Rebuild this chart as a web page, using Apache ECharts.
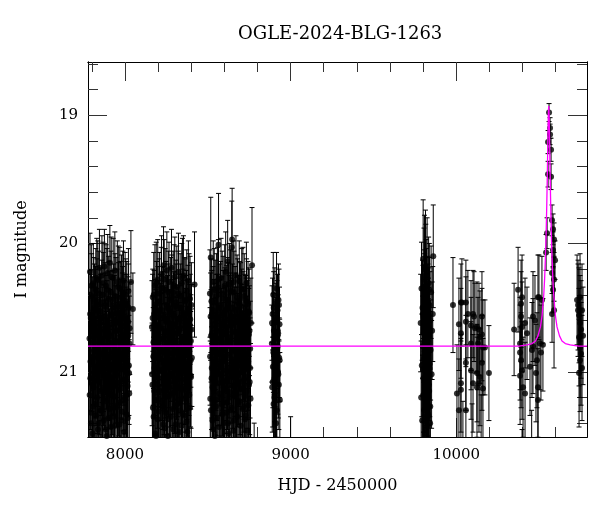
<!DOCTYPE html>
<html>
<head>
<meta charset="utf-8">
<script src="https://cdn.jsdelivr.net/npm/echarts@6/dist/echarts.min.js"></script>
<style>html,body{margin:0;padding:0;background:#fff}#c{width:600px;height:512px}</style>
</head>
<body>
<div id="c"></div>
<script>
// ---- axis settings ----
const X_MIN = 7777, X_MAX = 10789;
const Y_MIN = 18.586, Y_MAX = 21.508;
const X_MAJOR = [8000, 9000, 10000];
const X_MINOR = [7800, 8200, 8400, 8600, 8800, 9200, 9400, 9600, 9800, 10200, 10400, 10600];
const Y_MAJOR = [19, 20, 21];
const Y_MINOR = [18.6, 18.8, 19.2, 19.4, 19.6, 19.8, 20.2, 20.4, 20.6, 20.8, 21.2, 21.4];

// ---- photometry: [HJD-2450000, I mag, error] ----
const s2017 = [[7786,20.74,.36],[7789,20.22,.30],[7791,21.05,.40],[7794,20.58,.34],[7796,21.32,.45],[7799,20.41,.33],[7801,20.93,.38],[7804,21.48,.48],[7806,20.66,.35],[7809,20.31,.31],[7811,21.12,.42],[7814,20.84,.37],[7816,20.50,.34],[7819,21.25,.44],[7821,20.97,.39],[7824,20.36,.32],[7826,21.58,.50],[7829,20.71,.36],[7831,20.45,.33],[7834,21.07,.41],[7836,20.28,.30],[7839,20.89,.38],[7841,21.40,.47],[7844,20.62,.35],[7846,20.19,.30],[7849,21.15,.42],[7851,20.78,.36],[7854,20.53,.34],[7856,21.30,.45],[7859,20.95,.39],[7861,20.25,.31],[7864,21.66,.52],[7866,20.69,.35],[7869,20.40,.33],[7871,21.02,.40],[7874,20.85,.37],[7876,20.18,.29],[7879,21.21,.43],[7881,20.57,.34],[7884,21.45,.48],[7886,20.33,.32],[7889,20.91,.38],[7891,20.64,.35],[7894,21.10,.41],[7896,20.23,.30],[7899,20.80,.37],[7901,21.36,.46],[7904,20.47,.33],[7906,20.99,.39],[7909,20.15,.29],[7911,21.18,.42],[7914,20.72,.36],[7916,20.38,.32],[7919,21.52,.49],[7921,20.87,.38],[7924,20.55,.34],[7926,21.08,.41],[7929,20.27,.31],[7931,20.94,.39],[7934,21.28,.44],[7936,20.60,.35],[7939,20.21,.30],[7941,21.42,.47],[7944,20.76,.36],[7946,20.44,.33],[7949,21.03,.40],[7951,20.83,.37],[7954,20.30,.32],[7956,21.61,.51],[7959,20.68,.35],[7961,20.49,.34],[7964,21.14,.42],[7966,20.90,.38],[7969,20.35,.32],[7971,21.24,.44],[7974,20.63,.35],[7976,20.97,.39],[7979,20.42,.33],[7981,21.38,.46],[7984,20.75,.36],[7986,20.52,.34],[7989,21.06,.40],[7991,20.29,.31],[7994,20.88,.38],[7996,21.20,.43],[7999,20.59,.35],[8001,20.40,.33],[8004,21.00,.40],[8006,20.70,.36],[8009,21.33,.45],[8011,20.48,.34],[8014,20.82,.37],[8016,21.11,.42],[8019,20.61,.35],[8021,20.37,.33],[8024,20.95,.39],[8026,21.17,.42],[8029,20.66,.36],[8036,20.30,.40],[8048,20.51,.28]];
const s2017b = [[7787,21.18,.42],[7790,20.55,.34],[7792,20.92,.38],[7795,21.40,.47],[7797,20.33,.32],[7800,20.78,.37],[7803,21.10,.41],[7805,20.61,.35],[7807,21.27,.44],[7810,20.88,.38],[7812,20.44,.33],[7815,21.55,.50],[7817,20.70,.36],[7820,21.02,.40],[7822,20.52,.34],[7825,21.34,.45],[7827,20.96,.39],[7830,20.27,.31],[7832,21.20,.43],[7835,20.65,.35],[7837,21.45,.48],[7840,20.83,.37],[7842,20.39,.33],[7845,21.08,.41],[7847,20.74,.36],[7850,21.30,.45],[7852,20.58,.34],[7855,20.99,.39],[7857,21.62,.51],[7860,20.46,.33],[7862,20.86,.38],[7865,21.14,.42],[7867,20.31,.32],[7870,20.93,.38],[7872,21.38,.46],[7875,20.67,.35],[7877,21.05,.40],[7880,20.49,.34],[7882,20.81,.37],[7885,21.23,.44],[7887,20.60,.35],[7890,21.50,.49],[7892,20.36,.32],[7895,20.97,.39],[7897,21.16,.42],[7900,20.71,.36],[7902,20.43,.33],[7905,21.29,.44],[7907,20.89,.38],[7910,20.56,.34],[7912,21.04,.40],[7915,21.43,.48],[7917,20.26,.31],[7920,20.79,.37],[7922,21.12,.42],[7925,20.63,.35],[7927,20.95,.39],[7930,21.35,.46],[7932,20.50,.34],[7935,20.84,.37],[7937,21.19,.43],[7940,20.41,.33],[7942,21.00,.40],[7945,20.68,.35],[7947,21.57,.50],[7950,20.91,.38],[7952,20.54,.34],[7955,21.26,.44],[7957,20.77,.36],[7960,20.34,.32],[7962,21.09,.41],[7965,20.62,.35],[7967,21.41,.47],[7970,20.86,.38],[7972,20.47,.33],[7975,21.13,.42],[7977,20.73,.36],[7980,20.98,.39],[7982,21.31,.45],[7985,20.57,.34],[7987,20.38,.32],[7990,21.22,.43],[7992,20.80,.37],[7995,21.47,.48],[7997,20.64,.35],[8000,20.94,.39],[8002,21.07,.41],[8005,20.45,.33],[8007,20.85,.37],[8010,21.18,.42],[8012,20.59,.35],[8015,20.96,.39],[8017,21.36,.46],[8020,20.72,.36],[8022,20.50,.34],[8025,21.01,.40],[8027,20.78,.37]];
const s2018 = [[8163,20.65,.36],[8166,21.10,.42],[8168,20.42,.22],[8171,20.88,.38],[8173,21.35,.46],[8176,20.55,.34],[8178,20.97,.39],[8181,20.33,.32],[8183,21.22,.43],[8186,20.72,.36],[8188,21.50,.49],[8191,20.47,.33],[8193,20.81,.37],[8196,21.04,.40],[8198,20.28,.31],[8201,20.64,.35],[8203,21.31,.45],[8206,20.90,.38],[8208,20.39,.32],[8211,21.15,.42],[8213,20.58,.34],[8216,21.62,.52],[8218,20.75,.36],[8221,20.24,.30],[8223,20.99,.39],[8226,21.27,.44],[8228,20.52,.34],[8231,20.84,.37],[8233,20.17,.30],[8236,21.08,.41],[8238,20.68,.35],[8241,21.44,.48],[8243,20.36,.32],[8246,20.93,.38],[8248,20.61,.35],[8251,21.19,.43],[8253,20.21,.30],[8256,20.79,.37],[8258,21.37,.46],[8261,20.50,.34],[8263,20.96,.39],[8266,20.30,.31],[8268,21.12,.42],[8271,20.73,.36],[8273,21.55,.50],[8276,20.44,.33],[8278,20.86,.37],[8281,20.19,.30],[8283,21.02,.40],[8286,20.63,.35],[8288,21.29,.45],[8291,20.38,.32],[8293,20.91,.38],[8296,20.56,.34],[8298,21.16,.42],[8301,20.26,.31],[8303,20.77,.36],[8306,21.41,.47],[8308,20.49,.33],[8311,20.98,.39],[8313,20.34,.32],[8316,21.06,.41],[8318,20.70,.36],[8321,21.25,.44],[8323,20.22,.30],[8326,20.83,.37],[8328,20.59,.35],[8331,21.47,.48],[8333,20.41,.33],[8336,20.94,.38],[8338,20.66,.35],[8341,21.13,.42],[8343,20.31,.31],[8346,20.87,.38],[8348,21.33,.45],[8351,20.54,.34],[8353,20.25,.31],[8356,21.01,.40],[8358,20.74,.36],[8361,21.21,.43],[8363,20.45,.33],[8366,20.92,.38],[8368,20.60,.35],[8371,21.39,.46],[8373,20.37,.32],[8376,20.80,.37],[8378,21.09,.41],[8381,20.51,.34],[8383,20.29,.31],[8386,20.95,.39],[8388,21.18,.42],[8391,20.67,.35],[8393,20.43,.33],[8396,21.03,.40],[8398,20.76,.36],[8401,20.48,.33],[8404,20.89,.38],[8420,20.32,.41]];
const s2018b = [[8164,21.02,.40],[8167,20.58,.34],[8169,21.28,.44],[8172,20.77,.36],[8174,20.40,.33],[8177,21.15,.42],[8179,20.86,.38],[8182,21.48,.48],[8184,20.63,.35],[8187,20.95,.39],[8189,20.31,.32],[8192,21.10,.41],[8194,20.70,.36],[8197,21.37,.46],[8199,20.52,.34],[8202,20.89,.38],[8204,21.21,.43],[8207,20.45,.33],[8209,20.81,.37],[8212,21.56,.50],[8214,20.66,.35],[8217,20.99,.39],[8219,20.35,.32],[8222,21.24,.44],[8224,20.74,.36],[8227,21.05,.40],[8229,20.56,.34],[8232,21.41,.47],[8234,20.92,.38],[8237,20.28,.31],[8239,21.13,.42],[8242,20.69,.35],[8244,20.97,.39],[8247,21.32,.45],[8249,20.48,.34],[8252,20.84,.37],[8254,21.08,.41],[8257,20.60,.35],[8259,21.50,.49],[8262,20.38,.32],[8264,20.90,.38],[8267,21.19,.43],[8269,20.72,.36],[8272,20.53,.34],[8274,21.03,.40],[8277,21.35,.46],[8279,20.80,.37],[8282,20.42,.33],[8284,21.17,.42],[8287,20.65,.35],[8289,20.94,.39],[8292,21.45,.48],[8294,20.57,.34],[8297,20.33,.32],[8299,21.07,.41],[8302,20.85,.37],[8304,21.26,.44],[8307,20.62,.35],[8309,20.46,.33],[8312,21.11,.42],[8314,20.78,.36],[8317,21.58,.51],[8319,20.96,.39],[8322,20.39,.33],[8324,21.22,.43],[8327,20.68,.35],[8329,20.88,.38],[8332,21.30,.45],[8334,20.50,.34],[8337,21.00,.40],[8339,20.75,.36],[8342,21.42,.47],[8344,20.58,.34],[8347,20.27,.31],[8349,21.14,.42],[8352,20.83,.37],[8354,20.64,.35],[8357,21.34,.46],[8359,20.93,.38],[8362,20.44,.33],[8364,21.06,.41],[8367,20.71,.36],[8369,21.20,.43],[8372,20.55,.34],[8374,20.98,.39],[8377,21.47,.48],[8379,20.63,.35],[8382,20.87,.38],[8384,21.12,.42],[8387,20.41,.33],[8389,20.79,.37],[8392,21.28,.44],[8394,20.59,.35],[8397,20.91,.38],[8399,21.04,.40],[8402,20.67,.35]];
const s2019 = [[8513,20.39,.34],[8515,21.21,.45],[8518,20.11,.47],[8520,20.72,.36],[8523,21.05,.40],[8525,20.55,.34],[8528,21.38,.47],[8530,20.84,.37],[8533,20.30,.32],[8535,21.14,.42],[8538,20.63,.35],[8540,20.95,.39],[8543,21.50,.50],[8545,20.46,.33],[8548,20.78,.36],[8550,21.27,.44],[8553,20.58,.34],[8555,20.99,.39],[8558,20.35,.32],[8560,21.09,.41],[8563,20.68,.35],[8565,20.01,.40],[8568,21.43,.48],[8570,20.86,.37],[8573,20.50,.34],[8575,21.20,.43],[8578,20.74,.36],[8580,20.27,.31],[8583,21.02,.40],[8585,20.61,.35],[8588,21.33,.45],[8590,20.92,.38],[8593,20.43,.33],[8595,21.12,.42],[8598,20.70,.36],[8600,21.58,.51],[8603,20.53,.34],[8605,20.88,.37],[8608,20.22,.31],[8610,21.07,.41],[8613,20.65,.35],[8615,21.24,.44],[8618,20.80,.37],[8620,20.14,.32],[8623,21.40,.47],[8625,20.48,.33],[8628,20.97,.39],[8630,20.32,.32],[8633,21.16,.42],[8635,20.76,.36],[8638,20.57,.34],[8640,21.30,.45],[8643,20.90,.38],[8645,20.03,.36],[8647,19.97,.40],[8650,21.04,.40],[8653,20.62,.35],[8655,21.46,.48],[8658,20.38,.32],[8660,20.83,.37],[8663,21.19,.43],[8665,20.52,.34],[8668,20.94,.38],[8670,20.25,.31],[8673,21.10,.41],[8675,20.69,.35],[8678,21.35,.46],[8680,20.45,.33],[8683,20.87,.37],[8685,21.01,.40],[8688,20.60,.35],[8690,20.29,.31],[8693,21.23,.43],[8695,20.79,.36],[8698,20.49,.34],[8700,21.13,.42],[8703,20.67,.35],[8705,20.36,.32],[8708,20.96,.39],[8710,21.29,.44],[8713,20.56,.34],[8715,20.85,.37],[8718,21.06,.41],[8720,20.41,.33],[8723,20.73,.36],[8725,21.37,.46],[8728,20.59,.34],[8730,20.93,.38],[8733,20.31,.32],[8735,21.15,.42],[8738,20.64,.35],[8740,20.98,.39],[8743,20.47,.33],[8745,21.26,.44],[8748,20.71,.36],[8750,20.54,.34],[8753,21.08,.41],[8756,20.82,.37],[8760,20.62,.35],[8767,20.17,.45],[8780,21.80,.40]];
const s2019b = [[8514,20.88,.38],[8517,20.57,.34],[8519,21.30,.45],[8522,20.45,.33],[8524,20.97,.39],[8527,20.70,.36],[8529,21.12,.42],[8532,20.52,.34],[8534,21.45,.48],[8537,20.80,.37],[8539,20.36,.32],[8542,21.06,.41],[8544,20.66,.35],[8547,21.22,.43],[8549,20.92,.38],[8552,20.41,.33],[8554,21.36,.46],[8557,20.74,.36],[8559,20.59,.35],[8562,21.02,.40],[8564,20.28,.31],[8567,20.86,.37],[8569,21.17,.42],[8572,20.63,.35],[8574,21.52,.50],[8577,20.48,.34],[8579,20.95,.39],[8582,21.25,.44],[8584,20.71,.36],[8587,20.39,.33],[8589,21.09,.41],[8592,20.83,.37],[8594,20.55,.34],[8597,21.40,.47],[8599,20.90,.38],[8602,20.33,.32],[8604,21.14,.42],[8607,20.68,.35],[8609,20.99,.39],[8612,21.32,.45],[8614,20.51,.34],[8617,20.78,.36],[8619,21.05,.40],[8622,20.44,.33],[8624,21.48,.49],[8627,20.87,.38],[8629,20.60,.35],[8632,21.20,.43],[8634,20.73,.36],[8637,20.37,.32],[8639,21.00,.40],[8642,20.64,.35],[8644,21.28,.44],[8646,20.82,.37],[8649,20.50,.34],[8652,21.11,.42],[8654,20.93,.38],[8657,20.30,.32],[8659,21.38,.46],[8662,20.69,.35],[8664,20.96,.39],[8667,21.16,.42],[8669,20.57,.34],[8672,20.84,.37],[8674,21.55,.50],[8677,20.42,.33],[8679,21.03,.40],[8682,20.75,.36],[8684,20.61,.35],[8687,21.24,.44],[8689,20.89,.38],[8692,20.47,.33],[8694,21.08,.41],[8697,20.66,.35],[8699,21.42,.47],[8702,20.81,.37],[8704,20.54,.34],[8707,21.13,.42],[8709,20.91,.38],[8712,20.35,.32],[8714,21.27,.44],[8717,20.70,.36],[8719,20.98,.39],[8722,21.19,.43],[8724,20.58,.34],[8727,20.86,.37],[8729,21.34,.45],[8732,20.62,.35],[8734,20.45,.33],[8737,21.04,.40],[8739,20.77,.36],[8742,21.46,.48],[8744,20.92,.38],[8747,20.53,.34],[8749,21.10,.41],[8752,20.68,.35],[8755,20.97,.39],[8758,21.21,.43]];
const s2020 = [[8887,20.78,.30],[8888,20.62,.29],[8889,21.12,.35],[8891,20.55,.28],[8892,21.08,.35],[8893,20.96,.32],[8895,20.40,.33],[8896,20.85,.31],[8897,21.25,.37],[8898,20.50,.28],[8899,20.68,.29],[8900,21.52,.42],[8901,20.87,.31],[8902,21.20,.37],[8903,21.05,.34],[8905,20.47,.28],[8906,20.95,.32],[8907,20.74,.30],[8909,21.18,.36],[8910,20.72,.30],[8911,20.60,.29],[8912,21.40,.40],[8913,20.92,.32],[8914,21.15,.36],[8915,20.35,.28],[8917,21.30,.38],[8918,20.58,.29],[8919,20.82,.31],[8921,20.52,.28],[8922,20.80,.31],[8923,21.00,.33],[8925,20.70,.30],[8926,21.02,.34],[8927,20.44,.28],[8929,21.10,.35],[8930,20.48,.28],[8931,20.89,.31],[8933,20.63,.29],[8934,20.91,.32],[8935,21.22,.37],[9000,21.75,.40]];
const s2022 = [[9785,20.62,.38],[9788,21.20,.44],[9790,20.35,.36],[9792,20.95,.40],[9794,21.38,.47],[9796,20.50,.37],[9797,21.55,.50],[9798,20.80,.39],[9799,20.55,.38],[9800,20.12,.46],[9800,20.98,.41],[9801,21.18,.44],[9802,21.05,.42],[9803,20.70,.38],[9804,20.90,.40],[9805,20.28,.40],[9806,21.30,.46],[9806,20.66,.38],[9807,20.42,.37],[9808,20.88,.40],[9808,20.20,.42],[9809,20.45,.37],[9810,21.35,.47],[9811,21.12,.43],[9812,20.58,.38],[9812,21.48,.50],[9813,20.73,.39],[9814,20.18,.44],[9814,21.00,.42],[9815,20.99,.41],[9816,20.25,.40],[9817,21.45,.49],[9818,20.66,.38],[9818,20.33,.36],[9819,21.05,.42],[9820,20.40,.36],[9820,20.78,.39],[9821,21.22,.45],[9822,21.60,.50],[9822,20.62,.38],[9823,20.85,.40],[9824,20.22,.42],[9824,20.87,.40],[9825,21.28,.45],[9826,20.76,.39],[9826,21.42,.48],[9827,21.08,.42],[9828,20.47,.37],[9829,20.53,.37],[9830,20.92,.40],[9830,21.20,.44],[9831,20.82,.39],[9832,21.34,.47],[9832,20.65,.38],[9833,20.31,.36],[9834,21.52,.48],[9834,21.10,.43],[9835,20.72,.38],[9836,21.15,.44],[9836,20.57,.38],[9837,20.36,.36],[9838,20.48,.37],[9839,20.97,.41],[9840,20.94,.41],[9841,20.60,.38],[9842,21.40,.48],[9843,21.27,.45],[9845,20.83,.39],[9848,20.38,.36],[9851,21.02,.42],[9854,20.68,.38],[9858,20.55,.37],[9861,20.10,.40]];
const s2023 = [[9980,20.48,.37],[10004,21.17,.38],[10016,20.63,.36],[10016,21.30,.40],[10028,20.46,.30],[10028,20.70,.35],[10028,21.09,.38],[10028,21.14,.40],[10034,20.46,.34],[10040,21.65,.42],[10058,20.46,.33],[10058,20.61,.35],[10058,20.93,.37],[10058,21.30,.40],[10070,20.55,.34],[10089,20.64,.35],[10089,20.99,.38],[10089,20.78,.36],[10095,21.70,.45],[10101,20.55,.34],[10101,21.09,.38],[10107,20.57,.35],[10113,20.66,.35],[10125,20.65,.35],[10125,21.01,.38],[10125,21.12,.39],[10131,20.78,.36],[10137,21.09,.38],[10137,20.67,.36],[10143,21.04,.38],[10143,20.73,.36],[10150,21.60,.42],[10155,20.57,.35],[10155,20.71,.36],[10155,20.93,.37],[10161,20.81,.37],[10161,21.13,.39],[10173,20.81,.37],[10197,21.01,.37]];
const s2024 = [[10349,20.67,.36],[10373,20.36,.33],[10385,20.78,.36],[10385,20.85,.37],[10385,21.03,.38],[10391,20.47,.34],[10391,20.57,.35],[10391,20.91,.37],[10397,20.42,.33],[10397,20.65,.35],[10397,20.99,.38],[10397,21.85,.40],[10403,21.12,.39],[10415,20.62,.35],[10415,21.17,.40],[10427,20.70,.36],[10445,20.96,.38],[10455,21.70,.40],[10457,20.83,.37],[10463,20.57,.35],[10463,20.80,.37],[10475,20.60,.35],[10481,21.01,.38],[10487,20.91,.37],[10493,20.42,.33],[10493,21.12,.39],[10493,21.22,.40],[10499,20.42,.33],[10505,20.78,.36],[10511,20.85,.37],[10517,20.44,.34],[10523,20.79,.36],
  [10542,20.07,.14],[10548,19.92,.12],[10554,19.21,.09],[10554,19.46,.10],[10560,18.98,.07],[10566,19.10,.08],[10566,19.15,.08],[10572,19.27,.09],[10572,19.48,.10],[10578,19.82,.12],[10578,20.23,.16],[10578,20.55,.22],[10584,19.89,.12],[10584,20.05,.14],[10584,20.36,.18],[10590,19.97,.13],[10590,20.28,.17],[10590,20.52,.45],[10596,20.13,.15]];
const s2025 = [[10729,20.44,.35],[10735,20.48,.35],[10735,20.52,.36],[10741,20.56,.37],[10741,20.73,.38],[10741,21.01,.42],[10747,20.42,.34],[10747,20.62,.37],[10747,20.81,.39],[10747,20.91,.40],[10753,20.67,.38],[10753,20.86,.40],[10759,20.52,.36],[10759,20.97,.41],[10765,20.72,.38]];

// ---- model light curve: [HJD-2450000, I mag] ----
const modelCurve = [[7777,20.80],[10378,20.80],[10428,20.79],[10458,20.78],[10478,20.76],[10493,20.72],[10508,20.65],[10518,20.56],[10528,20.40],[10533,20.28],[10538,20.11],[10542,19.94],[10546,19.71],[10549,19.50],[10552,19.26],[10555,19.03],[10556.5,18.96],[10558,18.93],[10559.5,18.96],[10561,19.03],[10564,19.26],[10567,19.50],[10570,19.71],[10574,19.94],[10578,20.11],[10583,20.28],[10588,20.40],[10598,20.56],[10608,20.65],[10623,20.72],[10638,20.76],[10658,20.78],[10688,20.79],[10738,20.80],[10789,20.80]];

const TITLE = 'OGLE-2024-BLG-1263';
const X_NAME = 'HJD - 2450000';
const Y_NAME = 'I magnitude';

const photometry = [].concat(s2017, s2017b, s2018, s2018b, s2019, s2019b, s2020, s2022, s2023, s2024, s2025);

const FONT = 'DejaVu Serif';
const chart = echarts.init(document.getElementById('c'));

function xAxisDef(pos, values, len, labels) {
  return {
    type: 'value', min: X_MIN, max: X_MAX, position: pos,
    axisLine: { show: true, lineStyle: { color: '#000', width: 1 } },
    axisTick: { show: true, inside: true, length: len, customValues: values, lineStyle: { color: '#333', width: 1 } },
    axisLabel: labels ? { show: true, customValues: values, formatter: v => String(v), fontFamily: FONT, fontSize: 15, color: '#000', margin: 11 } : { show: false },
    splitLine: { show: false }
  };
}
function yAxisDef(pos, values, len, labels) {
  return {
    type: 'value', min: Y_MIN, max: Y_MAX, inverse: true, position: pos,
    axisLine: { show: true, lineStyle: { color: '#000', width: 1 } },
    axisTick: { show: true, inside: true, length: len, customValues: values, lineStyle: { color: '#333', width: 1 } },
    axisLabel: labels ? { show: true, customValues: values, formatter: v => String(v), fontFamily: FONT, fontSize: 15, color: '#000', margin: 10 } : { show: false },
    splitLine: { show: false }
  };
}

const xAxes = [
  Object.assign(xAxisDef('bottom', X_MAJOR, 19, true), { name: X_NAME, nameLocation: 'middle', nameGap: 41, nameTextStyle: { fontFamily: FONT, fontSize: 16, color: '#000' } }),
  xAxisDef('bottom', X_MINOR, 10, false),
  xAxisDef('top', X_MAJOR, 19, false),
  xAxisDef('top', X_MINOR, 10, false)
];
const yAxes = [
  Object.assign(yAxisDef('left', Y_MAJOR, 19, true), { name: Y_NAME, nameLocation: 'middle', nameGap: 58, nameTextStyle: { fontFamily: FONT, fontSize: 16, color: '#000' } }),
  yAxisDef('left', Y_MINOR, 10, false),
  yAxisDef('right', Y_MAJOR, 19, false),
  yAxisDef('right', Y_MINOR, 10, false)
];

function renderErr(params, api) {
  const t = api.value(0), m = api.value(1), e = api.value(2);
  const top = api.coord([t, m - e]);
  const bot = api.coord([t, m + e]);
  const w = 2.5;
  const st = { stroke: '#000', lineWidth: 1 };
  return {
    type: 'group',
    children: [
      { type: 'line', shape: { x1: top[0], y1: top[1], x2: bot[0], y2: bot[1] }, style: st },
      { type: 'line', shape: { x1: top[0] - w, y1: top[1], x2: top[0] + w, y2: top[1] }, style: st },
      { type: 'line', shape: { x1: bot[0] - w, y1: bot[1], x2: bot[0] + w, y2: bot[1] }, style: st }
    ]
  };
}

chart.setOption({
  animation: false,
  backgroundColor: '#fff',
  grid: { left: 88, right: 13, top: 62, bottom: 75 },
  graphic: [{
    type: 'text', left: 238, top: 25,
    style: { text: TITLE, font: '18px "DejaVu Serif"', fill: '#000' }
  }],
  xAxis: xAxes,
  yAxis: yAxes,
  series: [
    {
      type: 'custom', name: 'errors', xAxisIndex: 0, yAxisIndex: 0,
      data: photometry, renderItem: renderErr, clip: true,
      encode: { x: 0, y: 1 }, silent: true, z: 2
    },
    {
      type: 'scatter', name: 'points', xAxisIndex: 0, yAxisIndex: 0,
      data: photometry.map(d => [d[0], d[1]]), symbol: 'circle', symbolSize: 6,
      itemStyle: { color: '#000' }, clip: true, silent: true, z: 3
    },
    {
      type: 'line', name: 'model', xAxisIndex: 0, yAxisIndex: 0,
      data: modelCurve, showSymbol: false, clip: true,
      lineStyle: { color: '#ff00ff', width: 1.3 }, silent: true, z: 4
    }
  ]
});
</script>
</body>
</html>
